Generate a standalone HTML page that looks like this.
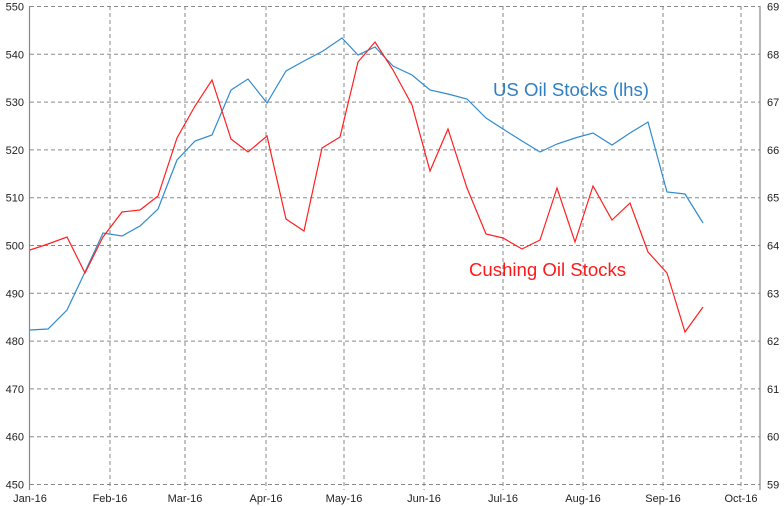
<!DOCTYPE html>
<html><head><meta charset="utf-8"><style>
html,body{margin:0;padding:0;background:#fff;}
svg{display:block;font-family:"Liberation Sans",sans-serif;}
</style></head><body>
<svg width="784" height="506" viewBox="0 0 784 506">
<rect width="784" height="506" fill="#fff"/>
<g stroke="#8a8a8a" stroke-width="1" stroke-dasharray="4,3" fill="none">
<line x1="30" y1="6.5" x2="760" y2="6.5"/>
<line x1="30" y1="54.3" x2="760" y2="54.3"/>
<line x1="30" y1="102.1" x2="760" y2="102.1"/>
<line x1="30" y1="149.9" x2="760" y2="149.9"/>
<line x1="30" y1="197.7" x2="760" y2="197.7"/>
<line x1="30" y1="245.5" x2="760" y2="245.5"/>
<line x1="30" y1="293.3" x2="760" y2="293.3"/>
<line x1="30" y1="341.1" x2="760" y2="341.1"/>
<line x1="30" y1="388.9" x2="760" y2="388.9"/>
<line x1="30" y1="436.7" x2="760" y2="436.7"/>
<line x1="30" y1="484.5" x2="760" y2="484.5"/>
<line x1="110" y1="6" x2="110" y2="490"/>
<line x1="185" y1="6" x2="185" y2="490"/>
<line x1="266" y1="6" x2="266" y2="490"/>
<line x1="344" y1="6" x2="344" y2="490"/>
<line x1="424" y1="6" x2="424" y2="490"/>
<line x1="503" y1="6" x2="503" y2="490"/>
<line x1="583" y1="6" x2="583" y2="490"/>
<line x1="663" y1="6" x2="663" y2="490"/>
<line x1="741" y1="6" x2="741" y2="490"/>
</g>
<line x1="29.5" y1="6" x2="29.5" y2="490" stroke="#888" stroke-width="1.2"/>
<line x1="760" y1="6" x2="760" y2="490" stroke="#888" stroke-width="1.2"/>
<g font-size="11" fill="#222" text-anchor="end">
<text x="24" y="10.5">550</text><text x="24" y="58.3">540</text><text x="24" y="106.1">530</text><text x="24" y="153.9">520</text><text x="24" y="201.7">510</text><text x="24" y="249.5">500</text><text x="24" y="297.3">490</text><text x="24" y="345.1">480</text><text x="24" y="392.9">470</text><text x="24" y="440.7">460</text><text x="24" y="488.5">450</text>
</g>
<g font-size="11" fill="#222" text-anchor="start">
<text x="767" y="10.5">69</text><text x="767" y="58.3">68</text><text x="767" y="106.1">67</text><text x="767" y="153.9">66</text><text x="767" y="201.7">65</text><text x="767" y="249.5">64</text><text x="767" y="297.3">63</text><text x="767" y="345.1">62</text><text x="767" y="392.9">61</text><text x="767" y="440.7">60</text><text x="767" y="488.5">59</text>
</g>
<g font-size="11" fill="#222" text-anchor="middle">
<text x="30" y="502">Jan-16</text><text x="110" y="502">Feb-16</text><text x="185" y="502">Mar-16</text><text x="266" y="502">Apr-16</text><text x="344" y="502">May-16</text><text x="424" y="502">Jun-16</text><text x="503" y="502">Jul-16</text><text x="583" y="502">Aug-16</text><text x="663" y="502">Sep-16</text><text x="741" y="502">Oct-16</text>
</g>
<polyline fill="none" stroke="#2f8bd0" stroke-width="1.2" points="30,330 48,329 67,310 85,272 103,233 122,236 140,226 158,209 177,160 195,141 212,135 231,90 248,79 267,103 286,71 304,61 323,51 342,38 358,55 375,47 393,66 412,75 430,90 448,94 467,99 486,118 503,129 522,141 540,152 557,144 575,138 593,133 612,145 630,133 648,122 667,192 685,194 703,223"/>
<polyline fill="none" stroke="#ff2020" stroke-width="1.2" points="30,250 48,244 67,237 85,273 103,237 122,212 140,210 158,196 177,138 195,106 212,80 231,139 248,152 267,136 286,219 304,231 322,148 340,137 358,62 375,42 393,70 412,105 430,171 448,129 467,188 486,234 503,238 522,249 540,240 557,188 575,242 593,186 612,220 630,203 648,252 667,273 685,332 703,307"/>
<text x="493" y="96" font-size="18.6" fill="#2f7fc4">US Oil Stocks (lhs)</text>
<text x="469" y="276" font-size="18.6" fill="#ff1a1a">Cushing Oil Stocks</text>
</svg>
</body></html>
